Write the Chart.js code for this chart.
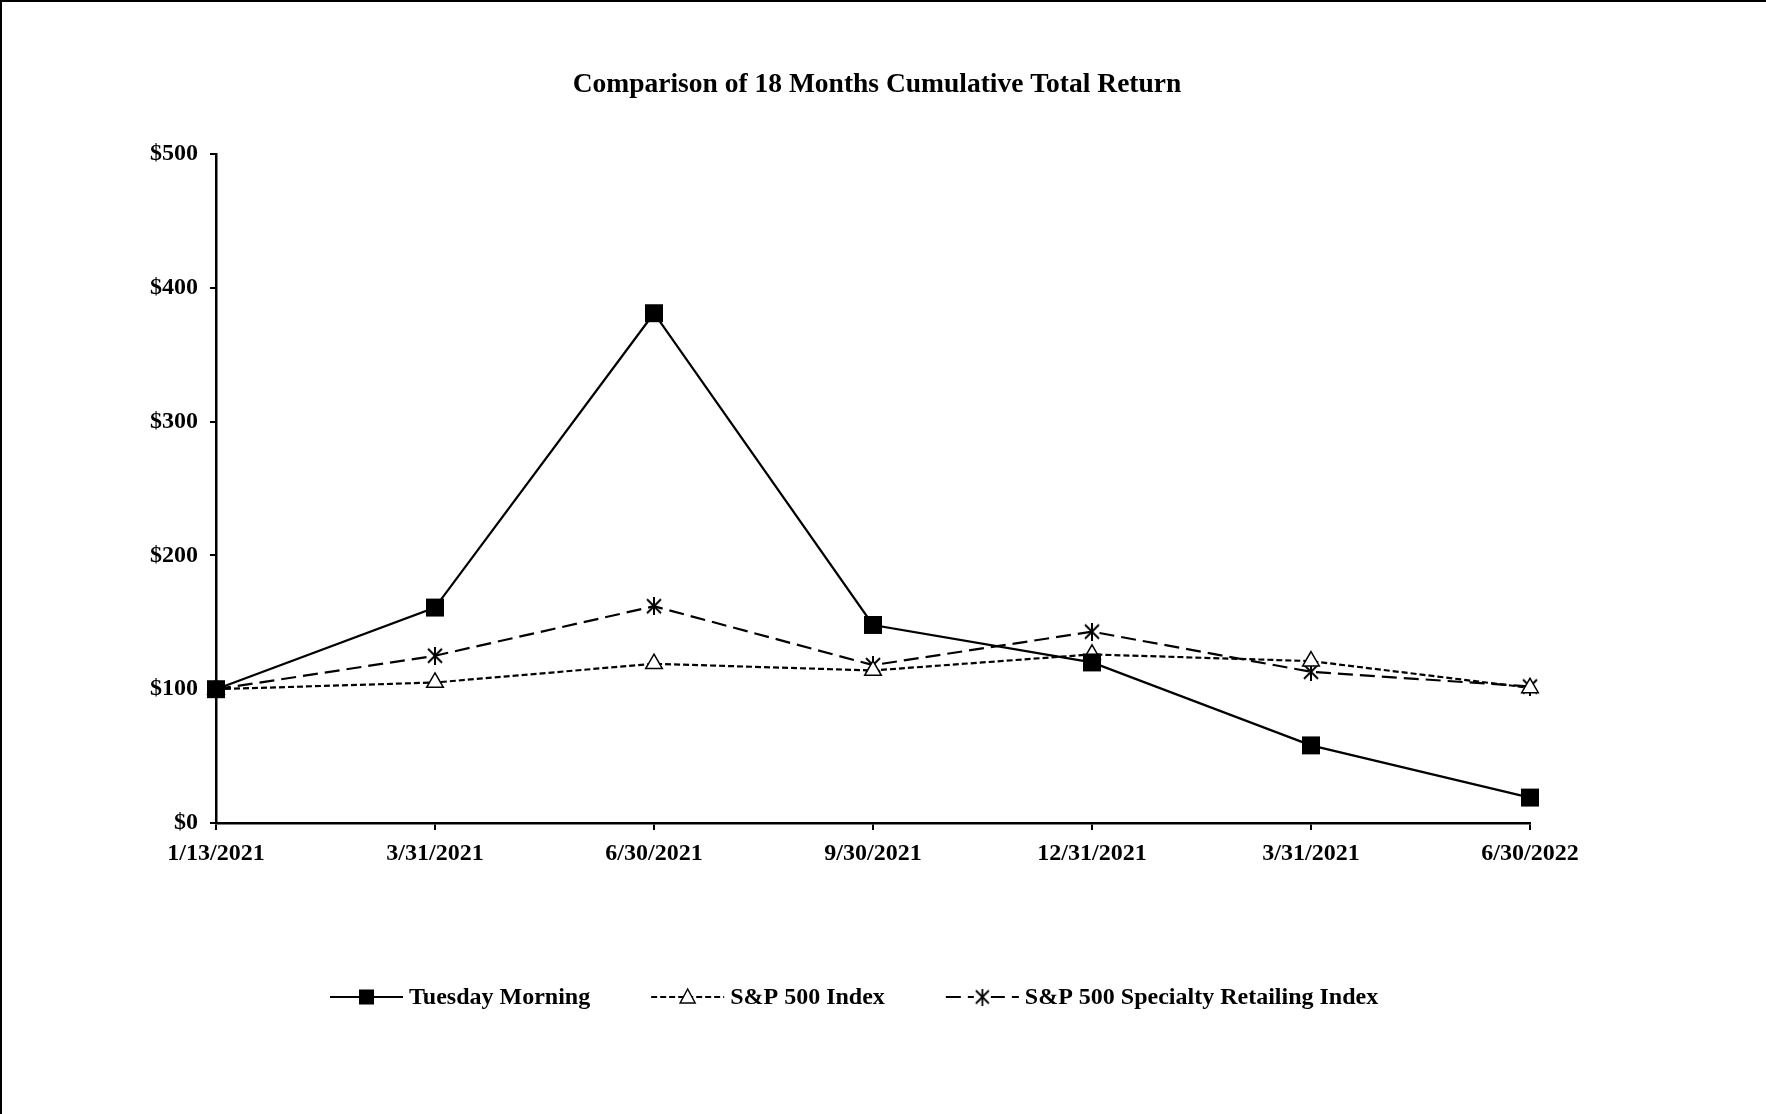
<!DOCTYPE html>
<html>
<head>
<meta charset="utf-8">
<title>Comparison of 18 Months Cumulative Total Return</title>
<script src="https://cdn.jsdelivr.net/npm/chart.js@4.4.1/dist/chart.umd.min.js"></script>
<style>
  html, body { margin: 0; padding: 0; background: #fff; }
  #wrap { position: relative; width: 1766px; height: 1114px; }
  #frame { position: absolute; inset: 0; border-left: 2px solid #000; border-top: 2px solid #000; pointer-events: none; }
</style>
</head>
<body>
<div id="wrap">
  <canvas id="chart"></canvas>
  <div id="frame"></div>
</div>
<script>
const periods = ['1/13/2021', '3/31/2021', '6/30/2021', '9/30/2021', '12/31/2021', '3/31/2021', '6/30/2022'];
const tuesdayMorning = [100, 161, 381, 148, 120, 58, 19];
const sp500 = [100, 105, 119, 114, 126, 121, 101];
const specialtyRetail = [100, 125, 162, 118, 143, 113, 102];

const FONT = '"Liberation Serif", "Times New Roman", serif';

// excel-style asterisk: vertical bar plus two diagonals
function asteriskMarker(size, lw) {
  const c = document.createElement('canvas');
  c.width = size;
  c.height = size;
  const g = c.getContext('2d');
  g.strokeStyle = '#000';
  g.lineWidth = lw;
  const h = size / 2;
  g.beginPath();
  g.moveTo(h, 0); g.lineTo(h, size);
  g.moveTo(2, 2); g.lineTo(size - 2, size - 2);
  g.moveTo(size - 2, 2); g.lineTo(2, size - 2);
  g.stroke();
  return c;
}

const starBig = asteriskMarker(18, 2);
const starSmall = asteriskMarker(17, 1.8);

// legend drawn by hand so the sample is a line with the marker on it
const sampleLegend = {
  id: 'sampleLegend',
  afterDraw(chart) {
    const ctx = chart.ctx;
    const y = 997;
    const sampleW = 73;
    let x = 330;
    ctx.save();
    ctx.font = 'bold 24px ' + FONT;
    ctx.textBaseline = 'middle';
    ctx.fillStyle = '#000';
    ctx.strokeStyle = '#000';
    chart.data.datasets.forEach((ds) => {
      ctx.lineWidth = 2;
      ctx.setLineDash(ds.borderDash || []);
      ctx.beginPath();
      ctx.moveTo(x, y);
      ctx.lineTo(x + sampleW, y);
      ctx.stroke();
      ctx.setLineDash([]);
      const cx = x + sampleW / 2;
      if (ds.pointStyle === 'rect') {
        ctx.fillRect(cx - 7.5, y - 7.5, 15, 15);
      } else if (ds.pointStyle === 'triangle') {
        ctx.fillStyle = '#fff';
        ctx.lineWidth = 1.5;
        ctx.beginPath();
        ctx.moveTo(cx, y - 8);
        ctx.lineTo(cx + 7.5, y + 6);
        ctx.lineTo(cx - 7.5, y + 6);
        ctx.closePath();
        ctx.fill();
        ctx.stroke();
        ctx.fillStyle = '#000';
      } else {
        ctx.fillStyle = '#fff';
        ctx.fillRect(cx - 8.5, y - 8.5, 17, 17);
        ctx.fillStyle = '#000';
        ctx.drawImage(starSmall, cx - 8.5, y - 8.5);
      }
      ctx.fillText(ds.label, x + sampleW + 6, y + 1);
      x += sampleW + 6 + ctx.measureText(ds.label).width + 61;
    });
    ctx.restore();
  }
};

new Chart(document.getElementById('chart'), {
  type: 'line',
  data: {
    labels: periods,
    datasets: [
      {
        label: 'Tuesday Morning',
        data: tuesdayMorning,
        borderColor: '#000',
        borderWidth: 2.2,
        pointStyle: 'rect',
        pointRadius: 12.7,
        pointBackgroundColor: '#000',
        pointBorderColor: '#000',
        pointBorderWidth: 0,
        clip: false
      },
      {
        label: 'S&P 500 Index',
        data: sp500,
        borderColor: '#000',
        borderWidth: 2.2,
        borderDash: [6, 3],
        pointStyle: 'triangle',
        pointRadius: 9.6,
        pointBackgroundColor: '#fff',
        pointBorderColor: '#000',
        pointBorderWidth: 1.5,
        clip: false
      },
      {
        label: 'S&P 500 Specialty Retailing Index',
        data: specialtyRetail,
        borderColor: '#000',
        borderWidth: 2.2,
        borderDash: [15, 7],
        pointStyle: starBig,
        pointRadius: 9,
        clip: false
      }
    ]
  },
  options: {
    responsive: true,
    maintainAspectRatio: false,
    animation: false,
    layout: { padding: { top: 0, left: 0, right: 12, bottom: 231 } },
    plugins: {
      legend: { display: false },
      tooltip: { enabled: false },
      title: {
        display: true,
        text: 'Comparison of 18 Months Cumulative Total Return',
        color: '#000',
        font: { family: FONT, size: 27.5, weight: 'bold' },
        padding: { top: 68, bottom: 53 }
      }
    },
    scales: {
      x: {
        offset: false,
        grid: { drawOnChartArea: false, tickLength: 7, color: '#000', lineWidth: 2 },
        border: { color: '#000', width: 2.5 },
        ticks: { color: '#000', font: { family: FONT, size: 24, weight: 'bold' }, padding: 9, maxRotation: 0, autoSkip: false },
        afterFit(scale) { scale.height = 60; }
      },
      y: {
        min: 0,
        max: 500,
        grid: { drawOnChartArea: false, tickLength: 6, color: '#000', lineWidth: 2 },
        border: { color: '#000', width: 2.5 },
        ticks: {
          stepSize: 100,
          color: '#000',
          font: { family: FONT, size: 24, weight: 'bold' },
          padding: 12,
          callback: (v) => '$' + v
        },
        afterFit(scale) { scale.width = 216; }
      },
      spacer: {
        position: 'right',
        grid: { display: false },
        border: { display: false },
        ticks: { display: false },
        afterFit(scale) { scale.width = 224; }
      }
    }
  },
  plugins: [sampleLegend]
});
</script>
</body>
</html>
